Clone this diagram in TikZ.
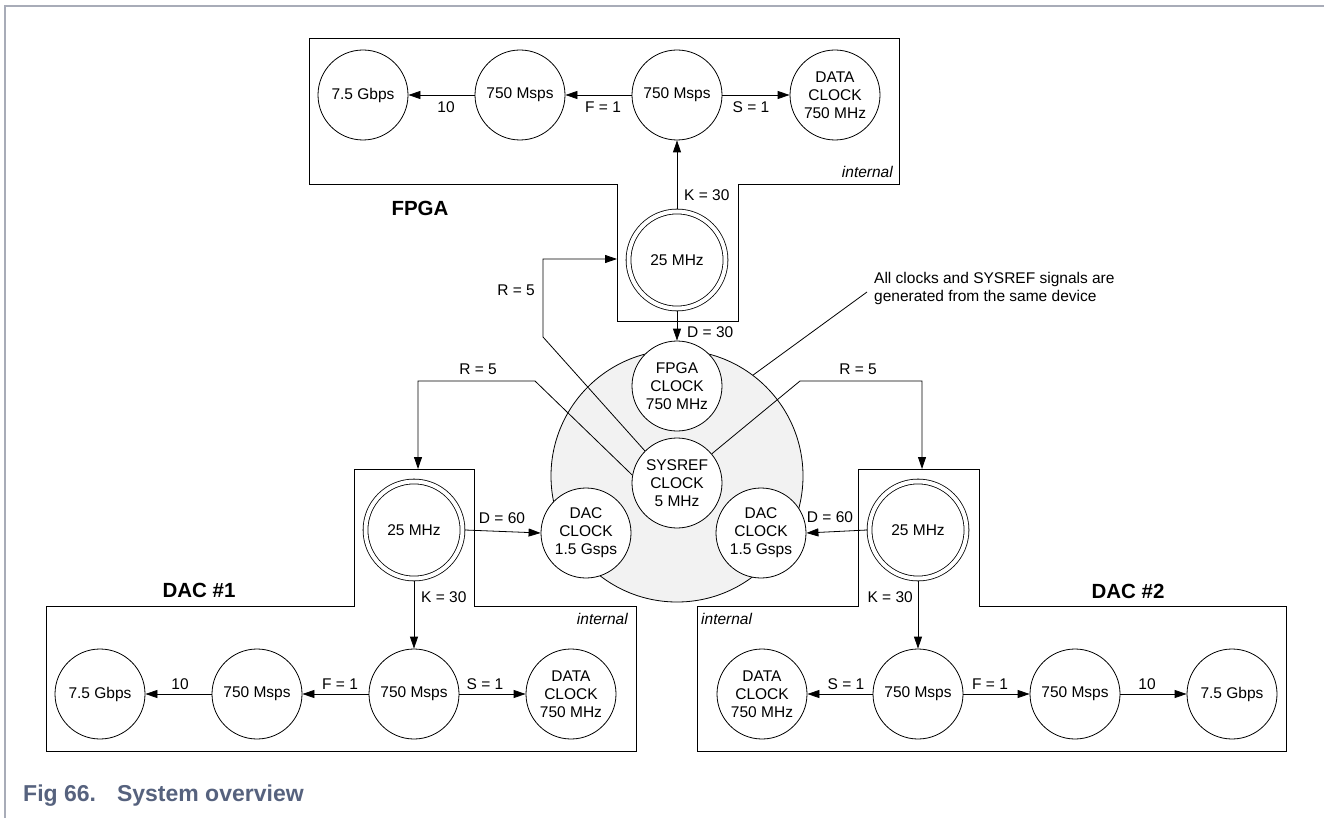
\documentclass[tikz,border=0pt]{standalone}
\usepackage{fontspec}
\setmainfont{Liberation Sans}
\usetikzlibrary{arrows.meta}
\definecolor{framegray}{RGB}{168,172,184}
\definecolor{capblue}{RGB}{86,98,126}
\definecolor{discgray}{RGB}{242,242,242}
\begin{document}
\begin{tikzpicture}[x=1pt,y=-1pt,
  clk/.style={circle,draw,fill=white,minimum size=90pt,inner sep=0pt,align=center,line width=0.8pt,font=\fontsize{15.5}{18}\selectfont},
  dbl/.style={circle,draw,fill=white,double,double distance=4pt,minimum size=97pt,inner sep=0pt,line width=0.8pt,outer sep=2.5pt,font=\fontsize{15.5}{18}\selectfont},
  lbl/.style={inner sep=0pt,font=\fontsize{15.5}{18}\selectfont},
  ttl/.style={inner sep=0pt,font=\fontsize{20.5}{24}\selectfont\bfseries},
  itl/.style={inner sep=0pt,font=\fontsize{15.5}{18}\selectfont\itshape},
  arr/.style={-{Triangle[length=12pt,width=8pt]},line width=0.8pt},
  ln/.style={line width=0.8pt},
  box/.style={line width=0.9pt}
]
\useasboundingbox (0,0) rectangle (1324,818);
% frame
\draw[framegray,line width=2pt] (5,818) -- (5,6) -- (1324,6);

% boxes
\draw[box] (309,38) -- (899,38) -- (899,184) -- (738,184) -- (738,321) -- (617,321) -- (617,184) -- (309,184) -- cycle;
\draw[box] (46,606) -- (354,606) -- (354,469) -- (474,469) -- (474,606) -- (636,606) -- (636,751) -- (46,751) -- cycle;
\draw[box] (697,606) -- (858,606) -- (858,469) -- (979,469) -- (979,606) -- (1286,606) -- (1286,751) -- (697,751) -- cycle;

% central disc
\node[circle,draw,fill=discgray,minimum size=252pt,inner sep=0pt,line width=0.8pt] (disc) at (677,476) {};

% coordinates
\coordinate (fin) at (617,259);
\coordinate (fr1) at (543,337);
\coordinate (fr2) at (543,259);
\coordinate (ar1) at (535,381);
\coordinate (ar2) at (418,381);
\coordinate (ain) at (418,469);
\coordinate (br1) at (800,381);
\coordinate (br2) at (922,381);
\coordinate (bin) at (922,469);
\coordinate (callend) at (867,292);

% central clocks
\node[clk] (fclk) at (677,386) {FPGA\\CLOCK\\750 MHz};
\node[clk] (sys) at (677,483) {SYSREF\\CLOCK\\5 MHz};
\node[clk] (adclk) at (586,533) {DAC\\CLOCK\\1.5 Gsps};
\node[clk] (bdclk) at (761,533) {DAC\\CLOCK\\1.5 Gsps};

% SYSREF connectors
\draw[arr] (sys.135) -- (fr1) -- (fr2) -- (fin);
\draw[arr] (sys.170) -- (ar1) -- (ar2) -- (ain);
\draw[arr] (sys.40) -- (br1) -- (br2) -- (bin);
\draw[ln] (disc.53) -- (callend);
\node[lbl,anchor=west,align=left] (callout) at (874,288) {All clocks and SYSREF signals are\\generated from the same device};

% FPGA
\node[clk] (fg) at (363,95) {7.5 Gbps};
\node[clk] (fm1) at (520,95) {750 Msps};
\node[clk] (fm2) at (677,95) {750 Msps};
\node[clk] (fdc) at (835,95) {DATA\\CLOCK\\750 MHz};
\node[dbl] (f25) at (677,260) {25 MHz};
\draw[arr] (fm1) -- (fg);
\draw[arr] (fm2) -- (fm1);
\draw[arr] (fm2) -- (fdc);
\draw[arr] (f25.north) -- (fm2.south);
\draw[arr] (f25.south) -- (fclk.north);
\node[lbl] (l10f) at (446,107) {10};
\node[lbl] (lFf) at (603,107) {F = 1};
\node[lbl] (lSf) at (751,107) {S = 1};
\node[lbl,anchor=west] (lKf) at (684,195) {K = 30};
\node[lbl,anchor=west] (lDf) at (687,332) {D = 30};
\node[lbl] (lRf) at (516,290) {R = 5};
\node[itl,anchor=east] (intf) at (893,172) {internal};
\node[ttl] (tf) at (420,208) {FPGA};

% DAC #1
\node[dbl] (a25) at (414,530) {25 MHz};
\node[clk] (ag) at (100,694) {7.5 Gbps};
\node[clk] (am1) at (257,694) {750 Msps};
\node[clk] (am2) at (414,694) {750 Msps};
\node[clk] (adc) at (571,694) {DATA\\CLOCK\\750 MHz};
\draw[arr] (am1) -- (ag);
\draw[arr] (am2) -- (am1);
\draw[arr] (am2) -- (adc);
\draw[arr] (a25.south) -- (am2.north);
\draw[arr] (a25.east) -- (adclk.west);
\node[lbl] (l10a) at (180,684) {10};
\node[lbl] (lFa) at (340,684) {F = 1};
\node[lbl] (lSa) at (485,684) {S = 1};
\node[lbl,anchor=west] (lKa) at (421,597) {K = 30};
\node[lbl] (lDa) at (502,518) {D = 60};
\node[lbl] (lRa) at (478,369) {R = 5};
\node[itl,anchor=east] (inta) at (628,619) {internal};
\node[ttl] (ta) at (199,590) {DAC \#1};

% DAC #2
\node[dbl] (b25) at (918,530) {25 MHz};
\node[clk] (bdc) at (762,694) {DATA\\CLOCK\\750 MHz};
\node[clk] (bm2) at (918,694) {750 Msps};
\node[clk] (bm1) at (1075,694) {750 Msps};
\node[clk] (bg) at (1232,694) {7.5 Gbps};
\draw[arr] (bm2) -- (bdc);
\draw[arr] (bm2) -- (bm1);
\draw[arr] (bm1) -- (bg);
\draw[arr] (b25.south) -- (bm2.north);
\draw[arr] (b25.west) -- (bdclk.east);
\node[lbl] (lSb) at (846,684) {S = 1};
\node[lbl] (lFb) at (990,684) {F = 1};
\node[lbl] (l10b) at (1147,684) {10};
\node[lbl,anchor=east] (lKb) at (913,597) {K = 30};
\node[lbl] (lDb) at (830,517) {D = 60};
\node[lbl] (lRb) at (858,369) {R = 5};
\node[itl,anchor=west] (intb) at (701,619) {internal};
\node[ttl] (tb) at (1128,591) {DAC \#2};

% caption
\node[inner sep=0pt,anchor=west,text=capblue,font=\fontsize{23}{27}\selectfont\bfseries] (cap) at (23,796) {Fig 66.\hspace{21pt}System overview};
\end{tikzpicture}
\end{document}
